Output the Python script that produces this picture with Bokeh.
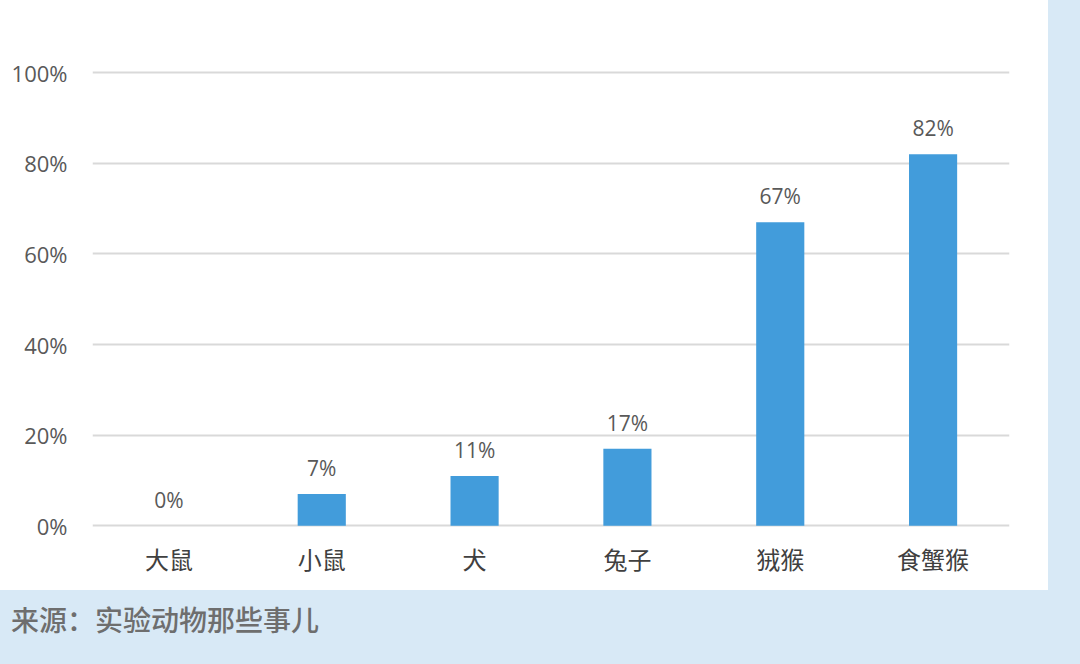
from bokeh.plotting import figure
from bokeh.models import ColumnDataSource, LabelSet, Range1d, FactorRange, Div, NumeralTickFormatter, FixedTicker
from bokeh.layouts import column
from bokeh.core.properties import value
from bokeh.embed import file_html
from bokeh.resources import INLINE

categories = ["大鼠", "小鼠", "犬", "兔子", "狨猴", "食蟹猴"]
values = [0.0, 0.07, 0.11, 0.17, 0.67, 0.82]
value_labels = ["0%", "7%", "11%", "17%", "67%", "82%"]
y_ticks = [0, 0.2, 0.4, 0.6, 0.8, 1.0]
source_text = "来源：实验动物那些事儿"

BLUE_BG = "#d8e9f6"

src = ColumnDataSource(dict(cat=categories, val=values, lab=value_labels))

p = figure(x_range=FactorRange(*categories, range_padding=0), y_range=Range1d(-0.015, 1.1),
           width=1048, height=590, output_backend="svg", toolbar_location=None,
           min_border_left=92, min_border_right=39, min_border_top=27, min_border_bottom=58)
p.background_fill_color = None
p.border_fill_color = None
p.styles = {"background-color": "white"}
p.outline_line_color = None

p.vbar(x="cat", top="val", bottom=0, width=0.315, source=src, color="#429cdb", line_color=None)

labels = LabelSet(x="cat", y="val", text="lab", source=src, text_align="center",
                  text_baseline="bottom", y_offset=12, text_font_size="21px",
                  text_color="#595959", text_font=value("Open Sans"))
p.add_layout(labels)

p.yaxis.ticker = FixedTicker(ticks=y_ticks)
p.yaxis.formatter = NumeralTickFormatter(format="0%")
p.yaxis.major_label_text_font = "Open Sans"
p.yaxis.major_label_text_font_size = "22px"
p.yaxis.major_label_text_color = "#595959"
p.yaxis.major_label_standoff = 19
p.yaxis.axis_line_color = None
p.yaxis.major_tick_line_color = None
p.yaxis.minor_tick_line_color = None

p.xaxis.major_label_text_font = "Noto Sans CJK SC"
p.xaxis.major_label_text_font_size = "24px"
p.xaxis.major_label_text_color = "#404040"
p.xaxis.major_label_standoff = 2
p.xaxis.axis_line_color = None
p.xaxis.major_tick_line_color = None
p.xaxis.minor_tick_line_color = None

p.xgrid.grid_line_color = None
p.ygrid.grid_line_color = "#d9d9d9"
p.ygrid.grid_line_width = 2

div = Div(text=source_text, margin=(10, 0, 0, 11),
          styles={"font-size": "28px", "color": "#6e6e6e", "font-family": "Noto Sans CJK SC",
                  "font-weight": "500", "line-height": "38px", "white-space": "nowrap"})

layout = column(p, div, spacing=0)
html = file_html(layout, INLINE)
css = "<style>html,body{background-color:" + BLUE_BG + ";}</style></head>"
html = html.replace("</head>", css, 1)
open("out.html", "w").write(html)
